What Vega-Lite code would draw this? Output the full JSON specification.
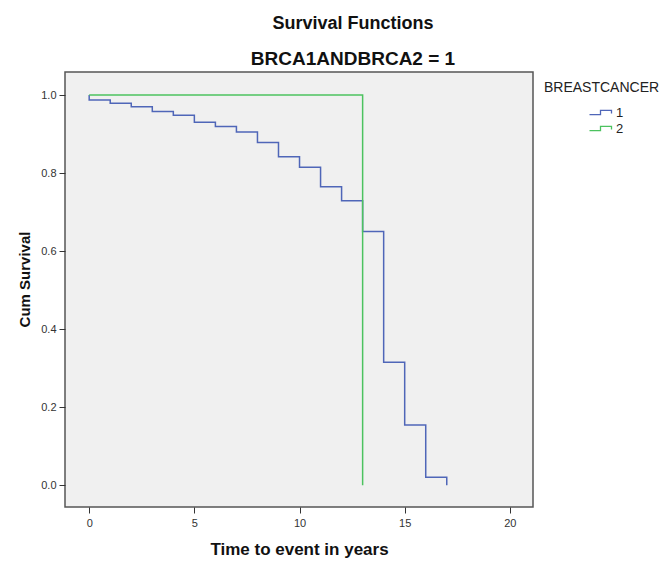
{
  "$schema": "https://vega.github.io/schema/vega-lite/v6.json",
  "autosize": "none",
  "width": 468,
  "height": 435,
  "padding": {"left": 65, "top": 72, "right": 134, "bottom": 54},
  "background": "white",
  "config": {
    "font": "Liberation Sans",
    "view": {"fill": "#f0f0f0", "stroke": "#555555", "strokeWidth": 1.5},
    "axis": {
      "domain": false,
      "grid": false,
      "tickColor": "#333333",
      "tickSize": 6,
      "labelColor": "#333333",
      "labelFont": "Liberation Sans",
      "labelFontSize": 11,
      "titleFont": "Liberation Sans",
      "titleFontWeight": "bold",
      "titleColor": "#111111"
    }
  },
  "title": {
    "text": "Survival Functions",
    "subtitle": "BRCA1ANDBRCA2 = 1",
    "anchor": "middle",
    "dx": 54,
    "offset": 3,
    "font": "Liberation Sans",
    "fontSize": 18,
    "fontWeight": "bold",
    "color": "#111111",
    "subtitleFont": "Liberation Sans",
    "subtitleFontSize": 19,
    "subtitleFontWeight": "bold",
    "subtitleColor": "#111111",
    "subtitlePadding": 17
  },
  "data": {
    "values": [
      {"series": "1", "i": 0, "t": 0, "s": 1.0},
      {"series": "1", "i": 1, "t": 0, "s": 0.987},
      {"series": "1", "i": 2, "t": 1, "s": 0.979},
      {"series": "1", "i": 3, "t": 2, "s": 0.970},
      {"series": "1", "i": 4, "t": 3, "s": 0.958},
      {"series": "1", "i": 5, "t": 4, "s": 0.948},
      {"series": "1", "i": 6, "t": 5, "s": 0.930},
      {"series": "1", "i": 7, "t": 6, "s": 0.919},
      {"series": "1", "i": 8, "t": 7, "s": 0.905},
      {"series": "1", "i": 9, "t": 8, "s": 0.878},
      {"series": "1", "i": 10, "t": 9, "s": 0.842},
      {"series": "1", "i": 11, "t": 10, "s": 0.815},
      {"series": "1", "i": 12, "t": 11, "s": 0.765},
      {"series": "1", "i": 13, "t": 12, "s": 0.729},
      {"series": "1", "i": 14, "t": 13, "s": 0.650},
      {"series": "1", "i": 15, "t": 14, "s": 0.315},
      {"series": "1", "i": 16, "t": 15, "s": 0.154},
      {"series": "1", "i": 17, "t": 16, "s": 0.0205},
      {"series": "1", "i": 18, "t": 17, "s": 0.0205},
      {"series": "1", "i": 19, "t": 17, "s": 0.0},
      {"series": "2", "i": 0, "t": 0, "s": 1.0},
      {"series": "2", "i": 1, "t": 13, "s": 1.0},
      {"series": "2", "i": 2, "t": 13, "s": 0.0}
    ]
  },
  "mark": {"type": "line", "interpolate": "step-after", "strokeWidth": 1.5},
  "encoding": {
    "x": {
      "field": "t",
      "type": "quantitative",
      "title": "Time to event in years",
      "scale": {"domain": [-1.15, 21.1], "nice": false, "zero": false},
      "axis": {"values": [0, 5, 10, 15, 20], "titleFontSize": 17, "titlePadding": 13, "labelPadding": 4}
    },
    "y": {
      "field": "s",
      "type": "quantitative",
      "title": "Cum Survival",
      "scale": {"domain": [-0.056, 1.059], "nice": false, "zero": false},
      "axis": {"values": [0, 0.2, 0.4, 0.6, 0.8, 1.0], "format": ".1f", "titleFontSize": 15, "titlePadding": 8, "titleY": 207, "labelPadding": 3}
    },
    "order": {"field": "i", "type": "quantitative"},
    "color": {
      "field": "series",
      "type": "nominal",
      "title": "BREASTCANCER",
      "scale": {"domain": ["1", "2"], "range": ["#4f66b8", "#4cc25f"]},
      "legend": {
        "orient": "none",
        "legendX": 479,
        "legendY": 9,
        "titleFont": "Liberation Sans",
        "titleFontSize": 14,
        "titleFontWeight": "normal",
        "titleColor": "#222222",
        "titlePadding": 11,
        "labelFont": "Liberation Sans",
        "labelFontSize": 13,
        "labelColor": "#222222",
        "labelOffset": 9,
        "symbolType": "M-2,0.4H0V-0.4H2V0.2",
        "symbolSize": 121,
        "symbolStrokeWidth": 1.3,
        "symbolFillColor": "transparent",
        "symbolOffset": 50,
        "rowPadding": 2
      }
    }
  }
}
